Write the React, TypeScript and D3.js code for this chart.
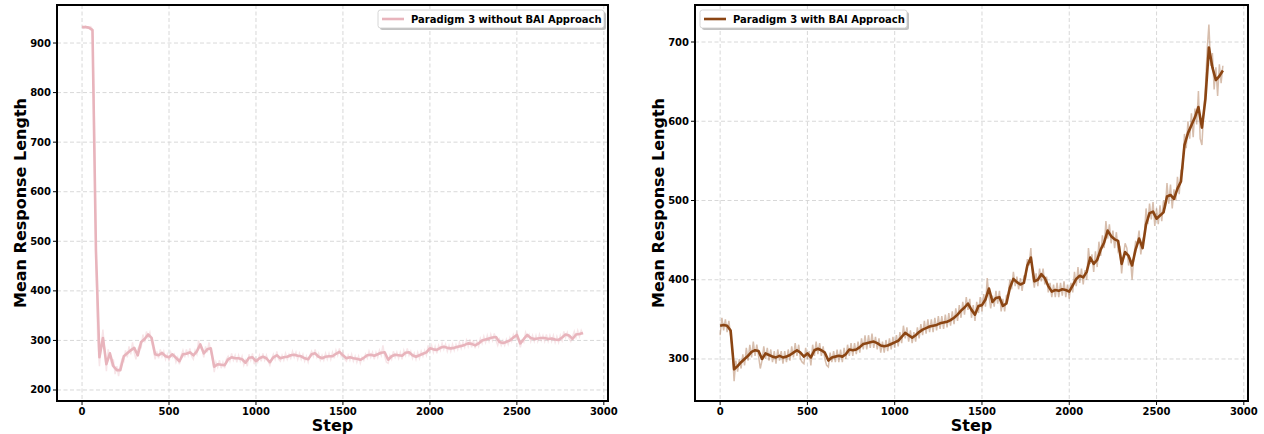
import React from "react";
import * as d3 from "d3";

// ---------- DATA ----------
const SMOOTH_STEP = 20;
const RAW_STEP = 10;

const withoutSmooth = [
  932, 932, 931, 926, 480, 266, 305, 252, 274, 248, 240, 240, 268, 274, 280, 285, 270, 297, 303, 312,
  305, 272, 270, 275, 268, 266, 272, 265, 258, 272, 273, 276, 270, 278, 292, 274, 282, 284, 247, 252,
  251, 250, 262, 266, 264, 264, 262, 255, 265, 266, 258, 264, 267, 264, 256, 266, 270, 264, 266, 267,
  270, 271, 269, 268, 264, 262, 272, 274, 267, 264, 267, 268, 268, 273, 277, 270, 264, 266, 264, 263,
  261, 265, 270, 271, 269, 272, 275, 276, 261, 268, 271, 270, 269, 275, 276, 270, 267, 270, 273, 276,
  284, 282, 281, 285, 287, 285, 284, 285, 287, 289, 291, 294, 293, 290, 294, 300, 302, 304, 306, 307,
  297, 295, 297, 300, 306, 311, 294, 303, 311, 305, 303, 304, 305, 305, 303, 304, 302, 301, 306, 312,
  310, 303, 312, 313, 315,
];

const withoutRaw = [
  933, 930, 934, 931, 929, 933, 928, 760, 470, 300, 248, 290, 322, 280, 238, 282, 268, 252, 262, 232,
  248, 228, 250, 262, 258, 280, 266, 288, 272, 296, 276, 262, 282, 290, 286, 312, 296, 318, 306, 316,
  296, 282, 262, 278, 264, 282, 268, 278, 262, 272, 258, 276, 266, 272, 256, 266, 252, 270, 280, 266,
  282, 270, 284, 268, 262, 280, 272, 300, 284, 282, 266, 288, 276, 296, 278, 262, 236, 256, 246, 260,
  244, 256, 244, 262, 268, 258, 274, 260, 270, 256, 270, 258, 268, 250, 260, 248, 272, 260, 274, 252,
  264, 256, 270, 258, 274, 260, 270, 258, 250, 262, 272, 262, 278, 262, 258, 270, 260, 274, 262, 272,
  264, 278, 266, 276, 262, 274, 262, 272, 258, 268, 256, 270, 278, 268, 282, 266, 274, 260, 270, 260,
  274, 262, 274, 262, 276, 264, 280, 270, 284, 268, 276, 262, 258, 270, 260, 272, 258, 268, 256, 268,
  254, 266, 260, 272, 264, 278, 266, 276, 262, 276, 266, 280, 270, 290, 268, 256, 254, 270, 262, 278,
  266, 276, 264, 276, 262, 280, 270, 284, 270, 278, 264, 274, 262, 276, 264, 278, 268, 280, 270, 290,
  278, 290, 276, 288, 274, 290, 280, 294, 282, 292, 278, 290, 278, 292, 280, 292, 282, 296, 284, 296,
  286, 300, 288, 302, 286, 300, 284, 298, 288, 304, 294, 308, 296, 310, 298, 312, 300, 314, 300, 290,
  302, 290, 300, 290, 302, 292, 306, 298, 312, 304, 318, 300, 286, 300, 296, 316, 306, 312, 298, 310,
  298, 310, 298, 312, 300, 310, 298, 312, 298, 310, 298, 310, 296, 308, 296, 310, 300, 318, 306, 316,
  304, 298, 308, 318, 306, 320, 308, 320, 312,
];

const withSmooth = [
  342, 343, 342, 336, 287, 291, 296, 300, 304, 309, 311, 310, 300, 307, 305, 303, 302, 304, 302, 303,
  305, 308, 311, 308, 303, 307, 302, 311, 313, 311, 308, 298, 302, 303, 304, 303, 306, 312, 311, 312,
  315, 319, 320, 321, 322, 320, 317, 316, 317, 319, 321, 323, 328, 333, 330, 327, 330, 334, 337, 339,
  341, 342, 343, 345, 346, 347, 349, 352, 356, 361, 365, 370, 362, 356, 367, 368, 375, 389, 372, 377,
  378, 367, 370, 390, 401, 397, 394, 396, 418, 428, 398, 400, 407, 402, 392, 385, 387, 386, 388, 387,
  385, 393, 401, 405, 403, 410, 428, 420, 425, 438, 447, 462, 455, 451, 449, 420, 435, 430, 418, 438,
  452, 440, 470, 484, 486, 477, 481, 485, 505, 507, 502, 515, 524, 570, 585, 595, 605, 618, 592, 628,
  693, 668, 652, 657, 664,
];

const withRaw = [
  330, 352, 336, 350, 334, 348, 330, 312, 272, 298, 284, 300, 288, 306, 292, 314, 298, 318, 302, 322,
  304, 318, 304, 288, 298, 316, 300, 314, 298, 312, 296, 310, 294, 312, 298, 310, 294, 310, 296, 312,
  298, 316, 302, 320, 304, 318, 300, 296, 294, 314, 300, 310, 292, 318, 304, 322, 306, 320, 304, 316,
  300, 292, 290, 308, 296, 310, 296, 312, 296, 312, 296, 314, 300, 318, 304, 320, 304, 320, 306, 322,
  308, 326, 312, 330, 312, 330, 314, 332, 314, 328, 312, 326, 308, 322, 308, 324, 310, 326, 312, 328,
  314, 330, 316, 334, 320, 342, 326, 340, 322, 336, 320, 334, 322, 340, 326, 344, 330, 348, 332, 350,
  334, 350, 334, 352, 336, 354, 338, 354, 338, 356, 340, 358, 342, 360, 344, 364, 348, 368, 352, 372,
  356, 378, 362, 376, 352, 368, 348, 372, 358, 378, 360, 382, 366, 402, 380, 364, 380, 366, 386, 370,
  386, 360, 376, 360, 380, 382, 400, 388, 410, 392, 404, 388, 402, 386, 404, 402, 426, 418, 440, 404,
  390, 408, 392, 414, 398, 414, 394, 404, 384, 396, 378, 394, 378, 396, 378, 396, 380, 398, 378, 394,
  376, 396, 384, 410, 392, 416, 396, 414, 394, 412, 400, 440, 420, 432, 410, 436, 416, 448, 430, 456,
  440, 474, 452, 470, 446, 462, 440, 460, 436, 440, 408, 430, 446, 440, 418, 428, 400, 430, 448, 446,
  462, 432, 450, 456, 490, 470, 496, 476, 498, 468, 490, 470, 494, 474, 500, 490, 522, 496, 520, 490,
  514, 500, 530, 508, 538, 540, 584, 566, 600, 578, 610, 580, 616, 596, 638, 578, 570, 610, 642, 690,
  722, 670, 686, 640, 668, 632, 672, 648, 670,
];

const xTicks = [0, 500, 1000, 1500, 2000, 2500, 3000];
const leftYTicks = [200, 300, 400, 500, 600, 700, 800, 900];
const rightYTicks = [300, 400, 500, 600, 700];

const FONT = "'DejaVu Sans', sans-serif";

type PanelProps = {
  x0: number;
  x1: number;
  y0: number;
  y1: number;
  yDomain: [number, number];
  yTicks: number[];
  smooth: number[];
  raw: number[];
  color: string;
  label: string;
  legendRight: boolean;
  legendWidth: number;
};

function Panel(p: PanelProps) {
  const x = d3.scaleLinear().domain([-144, 3024]).range([p.x0, p.x1]);
  const y = d3.scaleLinear().domain(p.yDomain).range([p.y1, p.y0]);
  const lineS = d3
    .line<number>()
    .x((_, i) => x(i * SMOOTH_STEP))
    .y((d) => y(d));
  const lineR = d3
    .line<number>()
    .x((_, i) => x(i * RAW_STEP))
    .y((d) => y(d));
  const clipId = "clip" + p.x0;
  const lw = p.legendWidth;
  const lx = p.legendRight ? p.x1 - 4 - lw : p.x0 + 5;
  const ly = p.y0 + 5;
  const lh = 18;
  return (
    <g>
      <defs>
        <clipPath id={clipId}>
          <rect x={p.x0} y={p.y0} width={p.x1 - p.x0} height={p.y1 - p.y0} />
        </clipPath>
      </defs>
      {xTicks.map((t) => (
        <line
          key={"gx" + t}
          x1={x(t)}
          x2={x(t)}
          y1={p.y0}
          y2={p.y1}
          stroke="#d4d4d4"
          strokeWidth={0.9}
          strokeDasharray="4,2.5"
        />
      ))}
      {p.yTicks.map((t) => (
        <line
          key={"gy" + t}
          x1={p.x0}
          x2={p.x1}
          y1={y(t)}
          y2={y(t)}
          stroke="#d4d4d4"
          strokeWidth={0.9}
          strokeDasharray="4,2.5"
        />
      ))}
      <g clipPath={`url(#${clipId})`}>
        <path d={lineR(p.raw) || ""} fill="none" stroke={p.color} strokeOpacity={0.35} strokeWidth={1.5} />
        <path d={lineS(p.smooth) || ""} fill="none" stroke={p.color} strokeWidth={2.6} strokeLinejoin="round" />
      </g>
      {xTicks.map((t) => (
        <g key={"tx" + t}>
          <line x1={x(t)} x2={x(t)} y1={p.y1} y2={p.y1 + 4} stroke="#000" strokeWidth={1} />
          <text
            x={x(t)}
            y={p.y1 + 14}
            textAnchor="middle"
            fontFamily={FONT}
            fontWeight="bold"
            fontSize={10}
            fill="#000"
          >
            {t}
          </text>
        </g>
      ))}
      {p.yTicks.map((t) => (
        <g key={"ty" + t}>
          <line x1={p.x0 - 4} x2={p.x0} y1={y(t)} y2={y(t)} stroke="#000" strokeWidth={1} />
          <text
            x={p.x0 - 6}
            y={y(t)}
            dy="0.35em"
            textAnchor="end"
            fontFamily={FONT}
            fontWeight="bold"
            fontSize={10}
            fill="#000"
          >
            {t}
          </text>
        </g>
      ))}
      <rect
        x={p.x0}
        y={p.y0}
        width={p.x1 - p.x0}
        height={p.y1 - p.y0}
        fill="none"
        stroke="#000"
        strokeWidth={2}
      />
      <text
        x={(p.x0 + p.x1) / 2}
        y={p.y1 + 30}
        textAnchor="middle"
        fontFamily={FONT}
        fontWeight="bold"
        fontSize={16}
        fill="#000"
      >
        Step
      </text>
      <text
        transform={`translate(${p.x0 - 31},${(p.y0 + p.y1) / 2}) rotate(-90)`}
        textAnchor="middle"
        fontFamily={FONT}
        fontWeight="bold"
        fontSize={16}
        fill="#000"
      >
        Mean Response Length
      </text>
      <rect x={lx + 2} y={ly + 2} width={lw} height={lh} rx={2.5} fill="#888" fillOpacity={0.5} />
      <rect x={lx} y={ly} width={lw} height={lh} rx={2.5} fill="#fff" stroke="#cccccc" strokeWidth={0.8} />
      <line x1={lx + 4} x2={lx + 26} y1={ly + lh / 2} y2={ly + lh / 2} stroke={p.color} strokeWidth={2.6} />
      <text
        x={lx + 33}
        y={ly + lh / 2}
        dy="0.35em"
        fontFamily={FONT}
        fontWeight="bold"
        fontSize={10}
        fill="#000"
      >
        {p.label}
      </text>
    </g>
  );
}

export default function App() {
  return (
    <svg
      width={1264}
      height={434}
      style={{ position: "absolute", left: 0, top: 0, background: "#fff" }}
    >
      <rect x={0} y={0} width={1264} height={434} fill="#fff" />
      <Panel
        x0={57}
        x1={608}
        y0={5}
        y1={401}
        yDomain={[177.8, 976.7]}
        yTicks={leftYTicks}
        smooth={withoutSmooth}
        raw={withoutRaw}
        color="#e8b4bc"
        label="Paradigm 3 without BAI Approach"
        legendRight={true}
        legendWidth={226}
      />
      <Panel
        x0={695}
        x1={1248}
        y0={5}
        y1={401}
        yDomain={[247, 746.7]}
        yTicks={rightYTicks}
        smooth={withSmooth}
        raw={withRaw}
        color="#8b4513"
        label="Paradigm 3 with BAI Approach"
        legendRight={false}
        legendWidth={207}
      />
    </svg>
  );
}
